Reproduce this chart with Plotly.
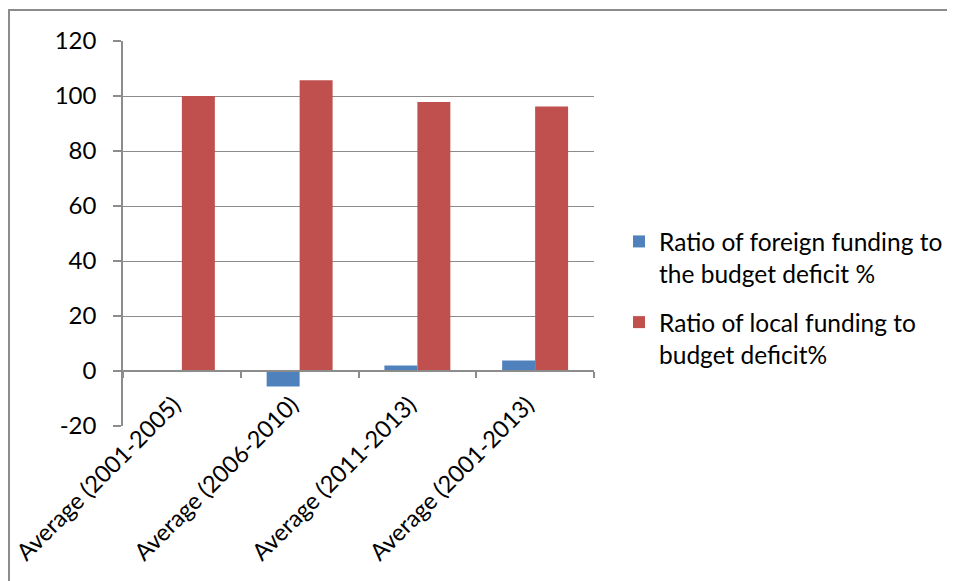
import plotly.graph_objects as go

categories = ["Average (2001-2005)", "Average (2006-2010)", "Average (2011-2013)", "Average (2001-2013)"]
foreign = [0.1, -5.6, 2.0, 3.8]
local = [100.0, 105.7, 97.8, 96.2]
series_names = ["Ratio of foreign funding to<br>the budget deficit %", "Ratio of local funding to<br>budget deficit%"]
y_ticks = [-20, 0, 20, 40, 60, 80, 100, 120]
y_tick_text = ["-20", "0", "20", "40", "60", "80", "100", "120"]

OFF = 8  # page body margin
W, H = 955 - OFF, 581 - OFF
L, R, T, B = 123 - OFF, 594 - OFF, 41 - OFF, 426 - OFF
font = "Lato"
grey = "#8c8c8c"

fig = go.Figure()
fig.add_bar(x=categories, y=foreign, name=series_names[0], legendgroup="foreign",
            marker=dict(color="#4F81BD", line=dict(width=0)))
fig.add_bar(x=categories, y=local, name=series_names[1], legendgroup="local",
            marker=dict(color="#C0504D", line=dict(width=0)))

pw = R - L
ph = B - T

def px_x(p):
    return (p - OFF - L) / pw

def px_y(p):
    return (B - (p - OFF)) / ph

fig.update_layout(
    width=W, height=H,
    margin=dict(l=L, r=W - R, t=T, b=H - B, autoexpand=False),
    paper_bgcolor="white", plot_bgcolor="white",
    barmode="group", bargap=0.44, bargroupgap=0,
    font=dict(family=font, size=24, color="black"),
    legend=dict(x=px_x(619), xanchor="left", y=px_y(219), yanchor="top",
                font=dict(size=24.5, family=font, color="black"),
                traceorder="grouped", tracegroupgap=14, valign="top",
                bgcolor="rgba(0,0,0,0)"),
    xaxis=dict(type="category", range=[-0.5, 3.5], anchor="free", position=20 / 140,
               showline=True, linecolor=grey, linewidth=1.5,
               ticks="outside", tickson="boundaries", ticklen=6, tickcolor=grey, tickwidth=1.5,
               tickangle=-45, showgrid=False, automargin=False,
               ticklabelshift=-8, ticklabelstandoff=10,
               tickfont=dict(size=23.5, family=font, color="black")),
    yaxis=dict(range=[-20, 120], tickvals=y_ticks, ticktext=y_tick_text,
               showgrid=True, gridcolor=grey, gridwidth=1,
               zeroline=False, showline=True, linecolor=grey, linewidth=1.5,
               ticks="outside", ticklen=8, tickcolor=grey, tickwidth=1.5,
               ticklabelstandoff=12, automargin=False,
               tickfont=dict(size=24, family=font, color="black")),
    shapes=[dict(type="rect", xref="paper", yref="paper",
                 x0=px_x(9), x1=px_x(990), y0=px_y(620), y1=px_y(10),
                 line=dict(color=grey, width=2), fillcolor="rgba(0,0,0,0)", layer="below")],
)

fig.write_html("out.html")
